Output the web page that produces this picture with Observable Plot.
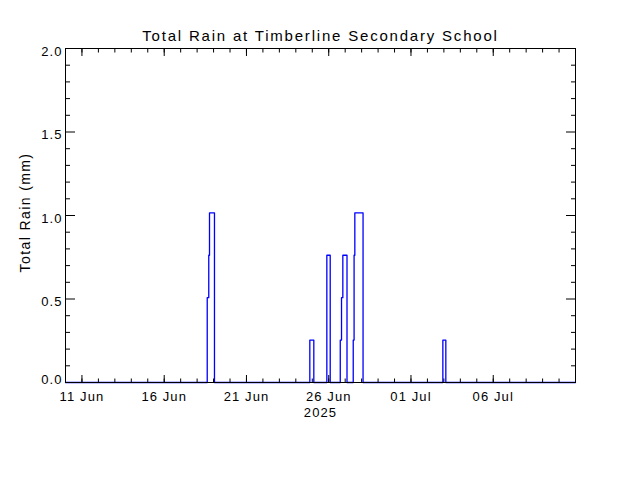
<!DOCTYPE html>
<html>
<head>
<meta charset="utf-8">
<script src="https://cdn.jsdelivr.net/npm/d3@7"></script>
<script src="https://cdn.jsdelivr.net/npm/@observablehq/plot@0.6"></script>
<style>
  html, body { margin: 0; padding: 0; background: #ffffff; }
  svg text { letter-spacing: 1.1px; }
</style>
</head>
<body>
<div id="chart"></div>
<script>
// ---- data ----
const chartTitle = "Total Rain at Timberline Secondary School";
const yLabel = "Total Rain (mm)";
const yearLabel = "2025";
const xDomain = ["2025-06-10T00:00Z", "2025-07-11T00:00Z"];
const yDomain = [0, 2];
const yTicks = [0, 0.5, 1.0, 1.5, 2.0];
const yMinorTicks = [0.1,0.2,0.3,0.4,0.6,0.7,0.8,0.9,1.1,1.2,1.3,1.4,1.6,1.7,1.8,1.9];
const xMajorTicks = ["2025-06-11","2025-06-16","2025-06-21","2025-06-26","2025-07-01","2025-07-06"];
const rainTimes = [
  "2025-06-10T00:00Z",
  "2025-06-18T14:45Z", "2025-06-18T17:00Z", "2025-06-18T18:05Z", "2025-06-19T01:20Z",
  "2025-06-24T20:25Z", "2025-06-25T02:15Z",
  "2025-06-25T21:15Z", "2025-06-26T02:10Z",
  "2025-06-26T16:50Z", "2025-06-26T18:40Z", "2025-06-26T20:35Z", "2025-06-27T02:40Z",
  "2025-06-27T11:45Z", "2025-06-27T13:00Z", "2025-06-27T14:05Z", "2025-06-28T02:05Z",
  "2025-07-02T22:30Z", "2025-07-03T02:50Z",
  "2025-07-11T00:00Z"
];
const rainValues = [
  0,
  0.508, 0.762, 1.016, 0,
  0.254, 0,
  0.762, 0,
  0.254, 0.508, 0.762, 0,
  0.254, 0.762, 1.016, 0,
  0.254, 0,
  0
];

// ---- build ----
const data = rainTimes.map((t, i) => ({date: new Date(t), rain: rainValues[i]}));
const xDom = xDomain.map(d => new Date(d));
const majorX = xMajorTicks.map(d => new Date(d + "T00:00Z"));
const minorX = d3.utcDay.range(xDom[0], d3.utcDay.offset(xDom[1], 1));
const fmt = d3.utcFormat("%d %b");
const yfmt = d3.format(".1f");
const blank = () => "";

const chart = Plot.plot({
  width: 640,
  height: 480,
  marginLeft: 65,
  marginRight: 65,
  marginTop: 48,
  marginBottom: 98,
  style: {fontFamily: "'Liberation Sans', Arial, sans-serif", fontSize: "13px", color: "black", background: "white"},
  x: {type: "utc", domain: xDom},
  y: {domain: yDomain},
  marks: [
    Plot.line(data, {x: "date", y: "rain", curve: "step-after", stroke: "#0000ff", strokeWidth: 1.3}),
    // bottom axis
    Plot.axisX(minorX, {anchor: "bottom", tickSize: -3.5, tickFormat: blank, label: null}),
    Plot.axisX(majorX, {anchor: "bottom", tickSize: -7, tickFormat: blank, label: null}),
    Plot.axisX(majorX, {anchor: "bottom", tickSize: 0, tickPadding: 9, tickFormat: fmt, label: null}),
    // top axis
    Plot.axisX(minorX, {anchor: "top", tickSize: -3.5, tickFormat: blank, label: null}),
    Plot.axisX(majorX, {anchor: "top", tickSize: -7, tickFormat: blank, label: null}),
    // left axis
    Plot.axisY(yMinorTicks, {anchor: "left", tickSize: -5, tickFormat: blank, label: null}),
    Plot.axisY(yTicks, {anchor: "left", tickSize: -10, tickFormat: blank, label: null}),
    Plot.axisY(yTicks.slice(1), {anchor: "left", tickSize: 0, tickPadding: 3, dy: 3, tickFormat: yfmt, label: null}),
    Plot.axisY([yTicks[0]], {anchor: "left", tickSize: 0, tickPadding: 3, dy: -3, tickFormat: yfmt, label: null}),
    // right axis
    Plot.axisY(yMinorTicks, {anchor: "right", tickSize: -5, tickFormat: blank, label: null}),
    Plot.axisY(yTicks, {anchor: "right", tickSize: -10, tickFormat: blank, label: null}),
    Plot.frame({stroke: "black", strokeWidth: 1}),
    Plot.text([chartTitle], {frameAnchor: "top", dy: -12, lineAnchor: "middle", fontSize: 15, fill: "black"}),
    Plot.text([yLabel], {frameAnchor: "left", dx: -40, dy: -3, rotate: -90, lineAnchor: "middle", textAnchor: "middle", fontSize: 14, fill: "black"}),
    Plot.text([yearLabel], {frameAnchor: "bottom", dy: 30, lineAnchor: "middle", fontSize: 13, fill: "black"})
  ]
});
// wider letter spacing to mimic the wide vector font of the original
d3.select(chart).selectAll("text").each(function() {
  const t = this.textContent;
  if (t === chartTitle) this.style.letterSpacing = "1.8px";
  else if (t === yLabel) this.style.letterSpacing = "1.4px";
});
document.getElementById("chart").appendChild(chart);
</script>
</body>
</html>
